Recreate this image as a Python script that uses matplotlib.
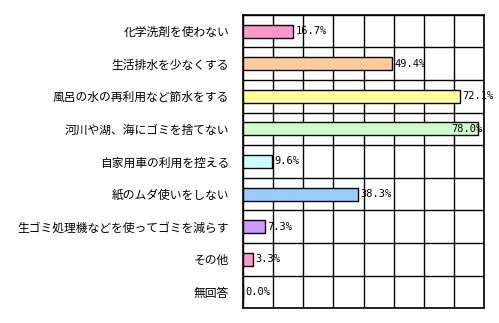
import numpy as np
import matplotlib
matplotlib.use('Agg')
import matplotlib.pyplot as plt

plt.rcParams['font.family'] = ['Noto Sans CJK JP', 'DejaVu Sans']

# Survey answers (top to bottom) and share in percent
labels = ['化学洗剤を使わない', '生活排水を少なくする', '風呂の水の再利用など節水をする',
          '河川や湖、海にゴミを捨てない', '自家用車の利用を控える', '紙のムダ使いをしない',
          '生ゴミ処理機などを使ってゴミを減らす', 'その他', '無回答']
values = [16.7, 49.4, 72.1, 78.0, 9.6, 38.3, 7.3, 3.3, 0.0]
colors = ['#FF99CC', '#FFCC99', '#FFFF99', '#CCFFCC', '#CCFFFF', '#99CCFF',
          '#CC99FF', '#FF99CC', '#FFFFFF']

fig = plt.figure(figsize=(4.99, 3.23), dpi=100)
ax = fig.add_axes([0.487, 0.046, 0.483, 0.908])

n = len(labels)
y = np.arange(n)
ax.barh(y, values, height=0.4, color=colors, edgecolor='black', linewidth=1, zorder=3)

# value labels right after each bar, pulled back inside when near the edge
for yi, v in zip(y, values):
    if v > 75:
        ax.text(79.5, yi, f'{v:.1f}%', va='center', ha='right',
                fontsize=7.5, family=['DejaVu Sans Mono'], zorder=4)
    else:
        ax.text(v + 0.8, yi, f'{v:.1f}%', va='center', ha='left',
                fontsize=7.5, family=['DejaVu Sans Mono'], zorder=4)

ax.set_xlim(0, 80)
ax.set_ylim(n - 0.5, -0.5)
ax.set_xticks(np.arange(0, 81, 10))
ax.set_yticks(np.arange(n + 1) - 0.5, minor=True)
ax.set_yticks(y)
ax.set_yticklabels(labels, fontsize=8.5)
ax.grid(axis='x', color='black', linewidth=1, zorder=1)
ax.grid(axis='y', which='minor', color='black', linewidth=1, zorder=1)
ax.tick_params(axis='both', which='both', length=0)
ax.tick_params(axis='y', pad=10)
ax.set_xticklabels([])
for s in ax.spines.values():
    s.set_linewidth(1.2)
    s.set_color('black')

fig.savefig('out.png', dpi=100)
